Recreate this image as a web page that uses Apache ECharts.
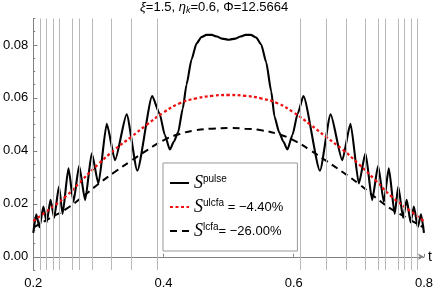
<!DOCTYPE html>
<html><head><meta charset="utf-8">
<script src="https://cdn.jsdelivr.net/npm/echarts@6/dist/echarts.min.js"></script>
<style>html,body{margin:0;padding:0;background:#fff}#c{width:436px;height:291px}</style>
</head><body><div id="c"></div>
<script>
// ---- data ----
const tPulse = [0.2000,0.2045,0.2095,0.2155,0.2205,0.2265,0.2320,0.2395,0.2449,0.2540,0.2617,0.2704,0.2796,0.2898,0.3000,0.3128,0.3255,0.3434,0.3597,0.3826,0.3940,0.4020,0.4097,0.4160,0.4224,0.4296,0.4353,0.4430,0.4506,0.4582,0.4660,0.4740,0.4820,0.4900,0.5000,0.5100,0.5180,0.5260,0.5340,0.5424,0.5500,0.5577,0.5654,0.5704,0.5776,0.5840,0.5903,0.5980,0.6060,0.6148,0.6403,0.6566,0.6745,0.6872,0.7000,0.7102,0.7204,0.7296,0.7383,0.7460,0.7551,0.7605,0.7680,0.7735,0.7795,0.7845,0.7905,0.7955,0.8000];
const vPulse = [0.0090,0.0160,0.0112,0.0190,0.0130,0.0215,0.0148,0.0265,0.0162,0.0334,0.0208,0.0344,0.0214,0.0391,0.0277,0.0502,0.0365,0.0538,0.0325,0.0607,0.0540,0.0460,0.0405,0.0435,0.0470,0.0560,0.0650,0.0745,0.0805,0.0830,0.0838,0.0838,0.0832,0.0824,0.0820,0.0824,0.0832,0.0838,0.0838,0.0828,0.0802,0.0735,0.0625,0.0530,0.0470,0.0435,0.0405,0.0460,0.0540,0.0607,0.0325,0.0538,0.0365,0.0502,0.0277,0.0391,0.0214,0.0344,0.0208,0.0334,0.0162,0.0265,0.0148,0.0215,0.0130,0.0190,0.0112,0.0160,0.0090];
const tSmooth = [0.200,0.225,0.250,0.275,0.300,0.325,0.350,0.375,0.400,0.425,0.450,0.475,0.500,0.525,0.550,0.575,0.600,0.625,0.650,0.675,0.700,0.725,0.750,0.775,0.800];
const vUlcfa = [0.0135,0.0180,0.0228,0.0290,0.0350,0.0405,0.0452,0.0500,0.0545,0.0580,0.0598,0.0608,0.0611,0.0608,0.0598,0.0580,0.0545,0.0500,0.0452,0.0405,0.0350,0.0290,0.0228,0.0180,0.0135];
const vLcfa  = [0.0110,0.0145,0.0180,0.0225,0.0275,0.0320,0.0362,0.0403,0.0440,0.0464,0.0478,0.0484,0.0486,0.0484,0.0478,0.0464,0.0440,0.0403,0.0362,0.0320,0.0275,0.0225,0.0180,0.0145,0.0110];
const gridT = [0.2066,0.2173,0.2295,0.2421,0.2574,0.2735,0.2941,0.3179,0.3485,0.3916,0.6061,0.6508,0.6817,0.7067,0.7273,0.7434,0.7579,0.7710,0.7812,0.7901];
const xTicks = [0.2,0.4,0.6,0.8];
const yTicks = [0,0.02,0.04,0.06,0.08];
const titleText = '{i|ξ}=1.5, {i|η}{sub|k}=0.6, Φ=12.5664';
const legendNames = ['pulse','ulcfa','lcfa'];
const legendLabels = {pulse:'{s|S}{p|pulse}', ulcfa:'{s|S}{p|ulcfa}{t| = −4.40%}', lcfa:'{s|S}{p|lcfa}{t|= −26.00%}'};

const zip = (a,b) => a.map((x,i)=>[x,b[i]]);
const FF = 'Liberation Sans, Arial, sans-serif';
const AX = '#808080';

const chart = echarts.init(document.getElementById('c'), null, {renderer:'canvas'});
chart.setOption({
  animation:false,
  backgroundColor:'#fff',
  title:{text:titleText, left:140, top:-1, padding:0,
    textStyle:{fontFamily:FF,fontSize:13,fontWeight:'normal',color:'#000',lineHeight:16,
      rich:{i:{fontFamily:FF,fontSize:13,fontStyle:'italic',color:'#000',lineHeight:16},
            sub:{fontFamily:FF,fontSize:9,fontStyle:'italic',color:'#000',lineHeight:8,verticalAlign:'bottom'}}}},
  grid:{left:33,right:11,top:18.5,bottom:21,containLabel:false},
  xAxis:{type:'value',min:0.2,max:0.8,interval:0.2,name:'t',nameLocation:'end',nameGap:4,
    nameTextStyle:{fontFamily:FF,fontSize:14,color:'#000',verticalAlign:'middle'},
    axisLine:{show:true,lineStyle:{color:AX,width:1},symbol:['none','arrow'],symbolSize:[5,6]},
    axisTick:{show:true,inside:true,length:3,customValues:xTicks,lineStyle:{color:AX}},
    axisLabel:{customValues:xTicks,formatter:v=>v.toFixed(1),fontFamily:FF,fontSize:13,color:'#000',margin:7},
    splitLine:{show:false}},
  yAxis:[
    {type:'value',min:-0.005,max:0.09,interval:0.005,
     axisLine:{show:true,lineStyle:{color:AX,width:1}},
     axisTick:{show:true,inside:true,length:2,lineStyle:{color:AX}},
     axisLabel:{show:false},splitLine:{show:false}},
    {type:'value',position:'left',min:-0.005,max:0.09,
     axisLine:{show:false},
     axisTick:{show:true,inside:true,length:4,customValues:yTicks,lineStyle:{color:AX}},
     axisLabel:{customValues:yTicks,formatter:v=>v.toFixed(2),fontFamily:FF,fontSize:13,color:'#000',margin:5},
     splitLine:{show:false}}
  ],
  legend:{data:legendNames,orient:'vertical',left:163,top:163,itemWidth:19,itemHeight:12,itemGap:6,
    padding:[11,14,11,6],backgroundColor:'#fff',borderColor:'#999',borderWidth:1,
    itemStyle:{opacity:0},
    formatter:n=>legendLabels[n],
    textStyle:{fontFamily:FF,fontSize:13,color:'#000',
      rich:{s:{fontFamily:'Liberation Serif',fontStyle:'italic',fontSize:18,color:'#000',lineHeight:18},
            p:{fontFamily:FF,fontSize:10,color:'#000',lineHeight:4,verticalAlign:'top'},
            t:{fontFamily:FF,fontSize:13,color:'#000',lineHeight:18}}}},
  series:[
    {type:'line',name:'grid',data:[],z:1,silent:true,
     markLine:{silent:true,symbol:['none','none'],label:{show:false},animation:false,
       lineStyle:{type:'solid',color:'#b8b8b8',width:1},
       data:gridT.map(t=>({xAxis:t}))}},
    {type:'line',name:'pulse',data:zip(tPulse,vPulse),showSymbol:false,symbol:'none',smooth:0.2,smoothMonotone:'x',
     lineStyle:{color:'#000',width:2.1,type:'solid'},itemStyle:{color:'#000'},z:3},
    {type:'line',name:'ulcfa',data:zip(tSmooth,vUlcfa),showSymbol:false,symbol:'none',smooth:true,
     lineStyle:{color:'#ee1111',width:2.3,type:[3,2.5]},itemStyle:{color:'#ee1111'},z:4},
    {type:'line',name:'lcfa',data:zip(tSmooth,vLcfa),showSymbol:false,symbol:'none',smooth:true,
     lineStyle:{color:'#000',width:2,type:[7,5]},itemStyle:{color:'#000'},z:4}
  ]
});
</script></body></html>
